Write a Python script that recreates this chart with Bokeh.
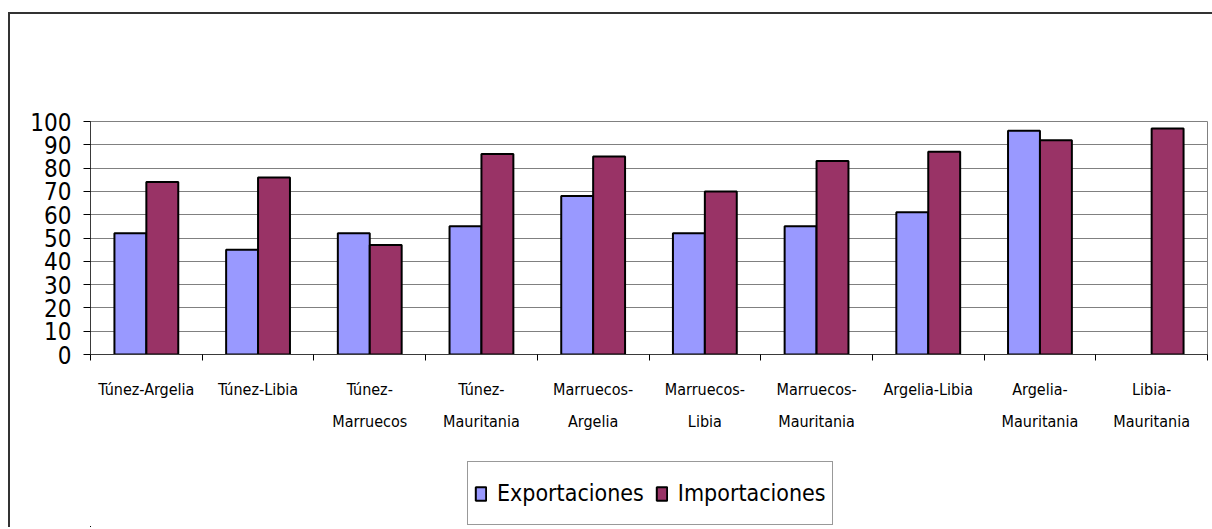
import numpy as np
from bokeh.plotting import figure
from bokeh.layouts import column
from bokeh.models import Range1d, FixedTicker, Legend, LegendItem, ColumnDataSource
from bokeh.embed import file_html
from bokeh.resources import INLINE

categories = ["Túnez-Argelia", "Túnez-Libia", "Túnez-\nMarruecos", "Túnez-\nMauritania",
              "Marruecos-\nArgelia", "Marruecos-\nLibia", "Marruecos-\nMauritania",
              "Argelia-Libia", "Argelia-\nMauritania", "Libia-\nMauritania"]
exportaciones = [52, 45, 52, 55, 68, 52, 55, 61, 96, float("nan")]
importaciones = [74, 76, 47, 86, 85, 70, 83, 87, 92, 97]
series_names = ["Exportaciones", "Importaciones"]
series_colors = ["#9999FF", "#993366"]
y_ticks = [0, 10, 20, 30, 40, 50, 60, 70, 80, 90, 100]

FONT = "DejaVu Sans Condensed"

idx = np.arange(len(categories))
centers = idx + 0.5
bw = 1 / 3.5

src = ColumnDataSource(dict(xe=centers - bw / 2, xi=centers + bw / 2,
                            exp=exportaciones, imp=importaciones))


def add_bars(fig):
    ra = fig.vbar(x="xe", top="exp", bottom=0, width=bw, source=src,
                  fill_color=series_colors[0], line_color="black", line_width=2)
    rb = fig.vbar(x="xi", top="imp", bottom=0, width=bw, source=src,
                  fill_color=series_colors[1], line_color="black", line_width=2)
    return [ra, rb]


p = figure(width=1202, height=445, output_backend="svg", toolbar_location=None,
           x_range=Range1d(0, len(categories)), y_range=Range1d(0, 100),
           min_border_left=80, min_border_right=5, min_border_top=107, min_border_bottom=105)
add_bars(p)

p.background_fill_color = "white"
p.border_fill_color = "white"
p.outline_line_color = "#808080"
p.outline_line_width = 1

p.xgrid.visible = False
p.ygrid.ticker = FixedTicker(ticks=y_ticks)
p.ygrid.grid_line_color = "#808080"
p.ygrid.grid_line_width = 1

ya = p.yaxis[0]
ya.ticker = FixedTicker(ticks=y_ticks)
ya.axis_line_color = "#3a3a3a"
ya.major_tick_line_color = "black"
ya.major_tick_out = 7
ya.major_tick_in = 0
ya.minor_tick_line_color = None
ya.major_label_standoff = 12
ya.major_label_text_font = FONT
ya.major_label_text_font_size = "24px"
ya.major_label_text_color = "black"

xa = p.xaxis[0]
xa.ticker = FixedTicker(ticks=list(centers), minor_ticks=list(idx) + [len(categories)])
xa.major_label_overrides = {float(c): lab for c, lab in zip(centers, categories)}
xa.axis_line_color = "#3a3a3a"
xa.major_tick_line_color = None
xa.major_tick_out = 0
xa.major_tick_in = 0
xa.minor_tick_line_color = "black"
xa.minor_tick_out = 6
xa.minor_tick_in = 0
xa.major_label_standoff = 19
xa.major_label_text_font = FONT
xa.major_label_text_font_size = "16px"
xa.major_label_text_line_height = 1.7
xa.major_label_text_color = "black"

# legend strip below the chart (same bars, kept entirely outside its visible ranges)
p2 = figure(width=1202, height=68, output_backend="svg", toolbar_location=None,
            x_range=Range1d(100, 101), y_range=Range1d(1000, 1001),
            x_axis_type=None, y_axis_type=None,
            min_border_left=0, min_border_right=0, min_border_top=0, min_border_bottom=0)
p2.outline_line_color = None
p2.grid.visible = False
p2.border_fill_color = "white"
p2.background_fill_color = "white"
rs = add_bars(p2)
items = [LegendItem(label=n, renderers=[r]) for n, r in zip(series_names, rs)]

legend = Legend(items=items, orientation="horizontal", location=(377, 2))
legend.label_text_font = FONT
legend.label_text_font_size = "23px"
legend.label_text_color = "black"
legend.glyph_width = 13
legend.glyph_height = 17
legend.label_standoff = 10
legend.spacing = 11
legend.padding = 6
legend.margin = 0
legend.label_height = 50
legend.border_line_color = "#333333"
legend.border_line_width = 1.5
legend.background_fill_color = "white"
p2.add_layout(legend, "center")

layout = column(p, p2, spacing=0)
layout.styles = {"border-left": "2px solid #333333", "border-top": "2px solid #333333",
                 "margin-top": "12px", "margin-left": "8px"}

open("out.html", "w").write(file_html(layout, INLINE))
